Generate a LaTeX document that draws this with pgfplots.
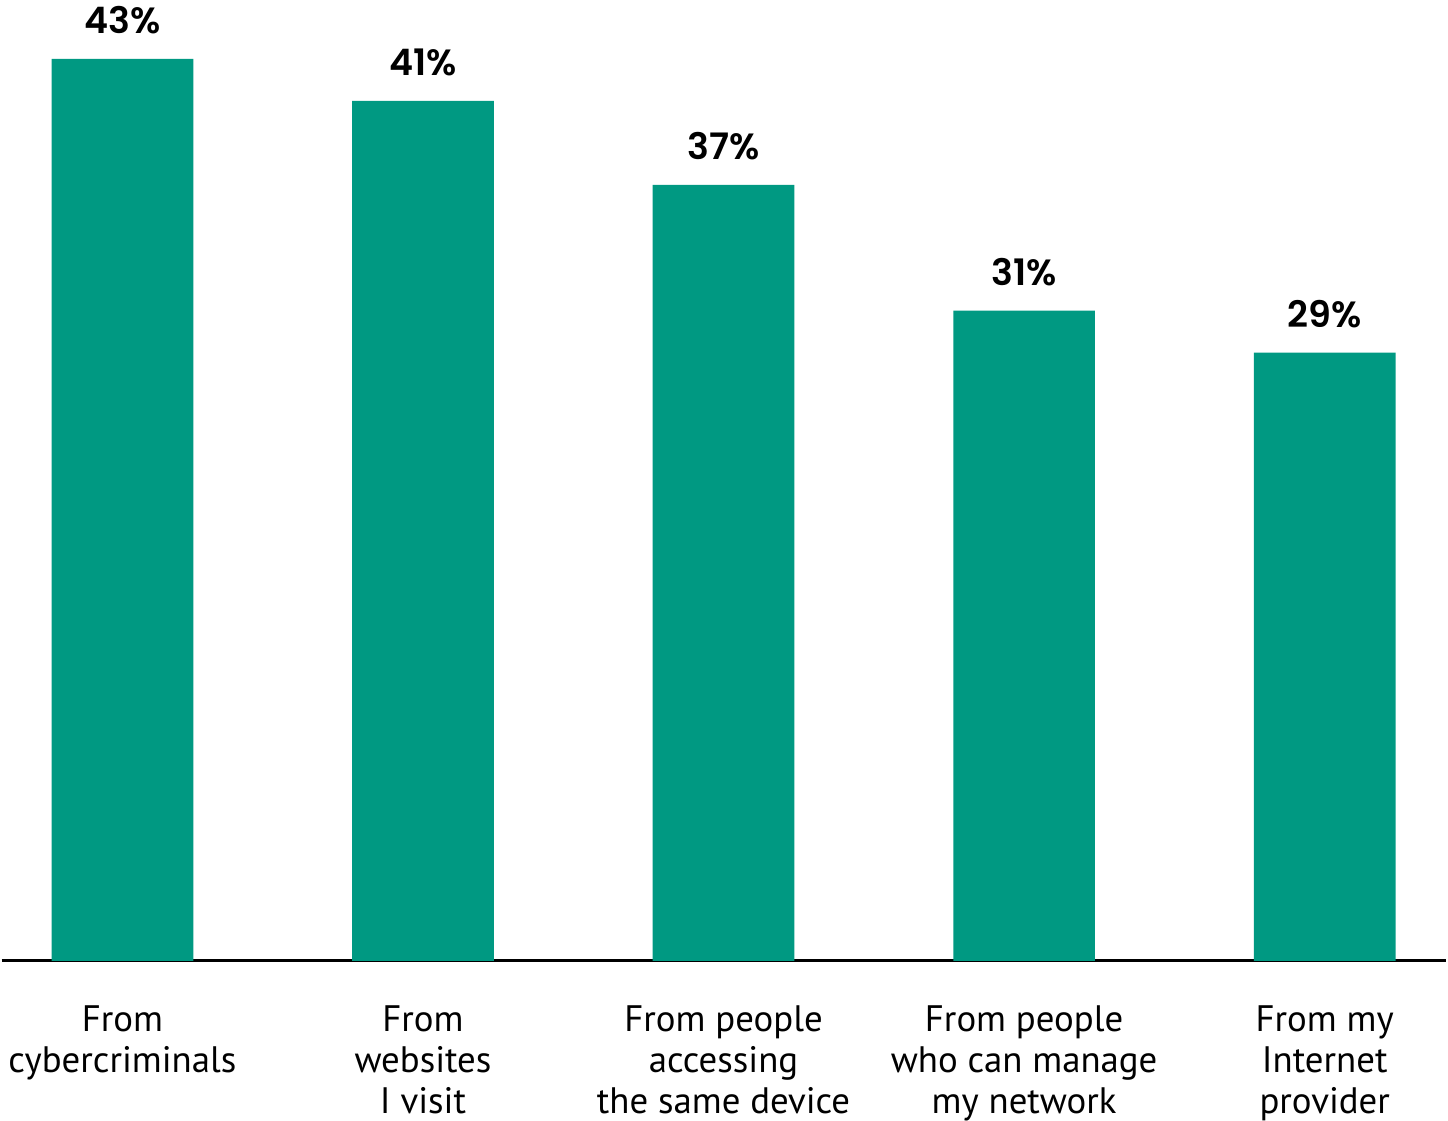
\documentclass[border=0pt]{standalone}
\usepackage{fontspec}
\setmainfont{PT Sans}
\newfontfamily\pctfont{Poppins}[UprightFont=* SemiBold]
\usepackage{pgfplots}
\pgfplotsset{compat=1.18}
\definecolor{barteal}{HTML}{009982}

\begin{document}
\begin{tikzpicture}
\begin{axis}[
    scale only axis,
    width=144.8mm,
    height=96.3mm,
    ybar,
    bar width=14.2mm,
    ymin=0, ymax=45.81,
    xmin=-0.402, xmax=4.405,
    axis x line=bottom,
    axis y line=none,
    axis line style={-, line width=0.9pt, black},
    xtick=data,
    xticklabels={
        {From\\cybercriminals},
        {From\\websites\\I visit},
        {From people\\accessing\\the same device},
        {From people\\who can manage\\my network},
        {From my\\Internet\\provider}},
    major tick length=0pt,
    xticklabel style={align=center, inner sep=0pt,
        font=\fontsize{10.5}{11.7}\selectfont, yshift=-4.4mm},
    /pgf/number format/assume math mode=true,
    nodes near coords={\pgfmathprintnumber{\pgfplotspointmeta}\%},
    every node near coord/.append style={inner sep=0pt,
        font=\fontsize{10.4}{12}\selectfont\pctfont, yshift=2.4mm},
    % keep the full plot area in the bounding box (y axis is hidden)
    after end axis/.code={\path (rel axis cs:0,0) (rel axis cs:1,1);},
]
\addplot[fill=barteal, draw=none] coordinates {
    (0, 43)
    (1, 41)
    (2, 37)
    (3, 31)
    (4, 29)
};
\end{axis}
\end{tikzpicture}
\end{document}
